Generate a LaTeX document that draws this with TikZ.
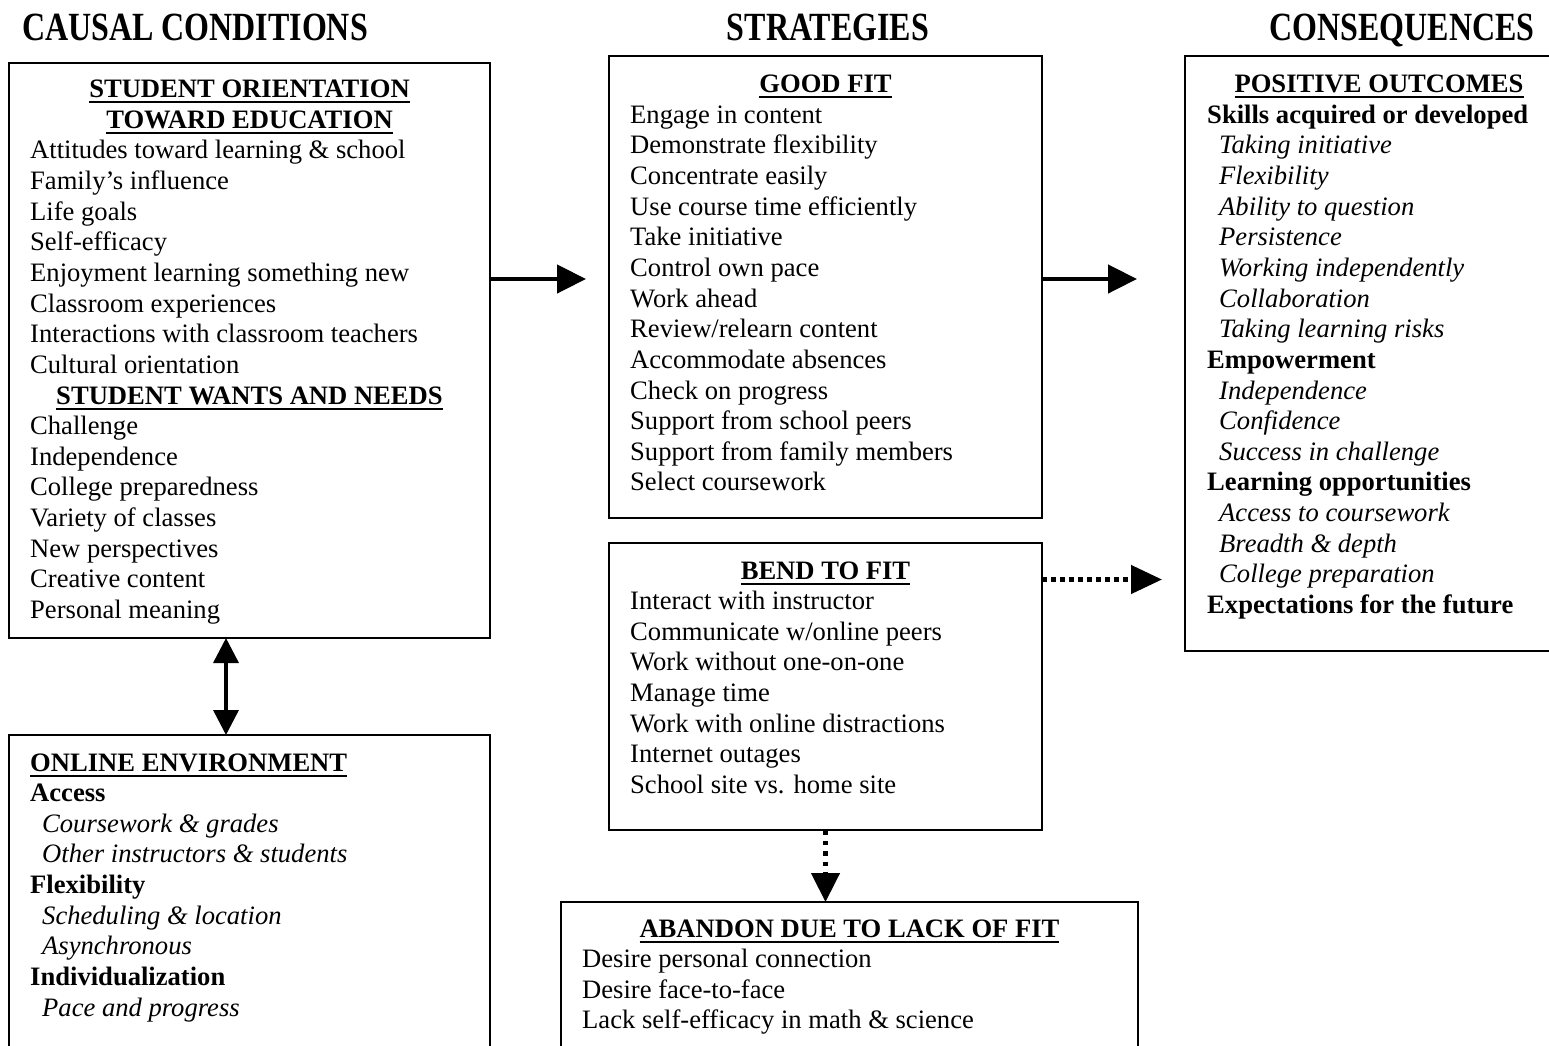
\documentclass[tikz,border=0pt]{standalone}
\usepackage{fontspec}
\setmainfont{Liberation Serif}
\usepackage{graphicx}
\usetikzlibrary{arrows.meta}
\newcommand\ulbox[1]{\setbox0\hbox{#1}\rlap{\rule[-5.5pt]{\wd0}{2pt}}\box0}
\newcommand\ttl[1]{\ulbox{\textbf{#1}}}
\newcommand\ita[1]{\kern12pt\textit{#1}}
\newcommand\drawlines[4]{\foreach \itemtext [count=\i from 0] in {#4}{\node[ln] (#1\i) at (#2,{#3+\i*30.65}) {\itemtext};}}
\tikzset{
  body/.style={font=\fontsize{26.6pt}{30.65pt}\selectfont},
  ln/.style={body,anchor=base west,inner sep=0pt},
  ttlnode/.style={body,anchor=base,inner sep=0pt},
  head/.style={font=\fontsize{40pt}{44pt}\selectfont\bfseries,anchor=base,inner sep=0pt},
  panel/.style={draw,line width=1.8pt,anchor=north west,inner sep=0pt,outer sep=0pt},
  solidarrow/.style={line width=4.5pt,-{Triangle[length=29pt,width=28pt]}},
  dotarrow/.style={line width=4.5pt,dash pattern=on 4.5pt off 4.5pt,-{Triangle[length=31pt,width=28pt]}},
  dotarrowv/.style={line width=4.5pt,dash pattern=on 4.5pt off 6pt,-{Triangle[length=29pt,width=28pt]}},
  twoarrow/.style={line width=3.5pt,{Triangle[length=25pt,width=25pt]}-{Triangle[length=25pt,width=25pt]}},
}
\begin{document}
\begin{tikzpicture}[x=1pt,y=-1pt]
\useasboundingbox (0,0) rectangle (1549,1045);
\clip (0,0) rectangle (1549,1045);
% headers
\node[head] (h1) at (195,40) {\scalebox{0.8}[1]{CAUSAL CONDITIONS}};
\node[head] (h2) at (828,40) {\scalebox{0.8}[1]{STRATEGIES}};
\node[head] (h3) at (1402,40) {\scalebox{0.8}[1]{CONSEQUENCES}};
% panels
\node[panel,minimum width=481pt,minimum height=575pt] (soe) at (9,63) {};
\node[panel,minimum width=481pt,minimum height=330pt] (onl) at (9,735) {};
\node[panel,minimum width=433pt,minimum height=462pt] (gf) at (609,56) {};
\node[panel,minimum width=433pt,minimum height=287pt] (bend) at (609,543) {};
\node[panel,minimum width=577pt,minimum height=160pt] (aban) at (561,902) {};
\node[panel,minimum width=380pt,minimum height=595pt] (pos) at (1185,56) {};
% left panel text
\node[ttlnode] (soeT0) at (249.5,97.5) {\ttl{STUDENT ORIENTATION}};
\node[ttlnode] (soeT1) at (249.5,128.15) {\ttl{TOWARD EDUCATION}};
\drawlines{soeA}{30}{158.8}{Attitudes toward learning \& school,Family’s influence,Life goals,Self-efficacy,Enjoyment learning something new,Classroom experiences,Interactions with classroom teachers,Cultural orientation}
\node[ttlnode] (soeT2) at (249.5,404) {\ttl{STUDENT WANTS AND NEEDS}};
\drawlines{soeB}{30}{434.65}{Challenge,Independence,College preparedness,Variety of classes,New perspectives,Creative content,Personal meaning}
% online environment
\drawlines{onlA}{30}{771}{\ttl{ONLINE ENVIRONMENT},\textbf{Access},\ita{Coursework \& grades},\ita{Other instructors \& students},\textbf{Flexibility},\ita{Scheduling \& location},\ita{Asynchronous},\textbf{Individualization},\ita{Pace and progress}}
% good fit
\node[ttlnode] (gfT) at (825.5,92.5) {\ttl{GOOD FIT}};
\drawlines{gfA}{630}{123.15}{Engage in content,Demonstrate flexibility,Concentrate easily,Use course time efficiently,Take initiative,Control own pace,Work ahead,Review/relearn content,Accommodate absences,Check on progress,Support from school peers,Support from family members,Select coursework}
% bend to fit
\node[ttlnode] (bendT) at (825.5,579) {\ttl{BEND TO FIT}};
\drawlines{bendA}{630}{609.65}{Interact with instructor,Communicate w/online peers,Work without one-on-one,Manage time,Work with online distractions,Internet outages,School site vs. home site}
% abandon
\node[ttlnode] (abanT) at (849.5,937) {\ttl{ABANDON DUE TO LACK OF FIT}};
\drawlines{abanA}{582}{967.65}{Desire personal connection,Desire face-to-face,Lack self-efficacy in math \& science}
% positive outcomes
\node[ttlnode] (posT) at (1379,92.5) {\ttl{POSITIVE OUTCOMES}};
\drawlines{posA}{1207}{123.15}{\textbf{Skills acquired or developed},\ita{Taking initiative},\ita{Flexibility},\ita{Ability to question},\ita{Persistence},\ita{Working independently},\ita{Collaboration},\ita{Taking learning risks},\textbf{Empowerment},\ita{Independence},\ita{Confidence},\ita{Success in challenge},\textbf{Learning opportunities},\ita{Access to coursework},\ita{Breadth \& depth},\ita{College preparation},\textbf{Expectations for the future}}
% connectors
\coordinate (r1) at (0,279);
\coordinate (r3) at (0,579.5);
\coordinate (c1) at (226,0);
\draw[solidarrow,shorten >=23pt] (soe.east |- r1) -- (gf.west |- r1);
\draw[solidarrow,shorten >=48pt] (gf.east |- r1) -- (pos.west |- r1);
\draw[dotarrow,shorten >=23pt] (bend.east |- r3) -- (pos.west |- r3);
\draw[dotarrowv] (bend.south) -- (bend.south |- aban.north);
\draw[twoarrow] (soe.south -| c1) -- (onl.north -| c1);
\end{tikzpicture}
\end{document}
